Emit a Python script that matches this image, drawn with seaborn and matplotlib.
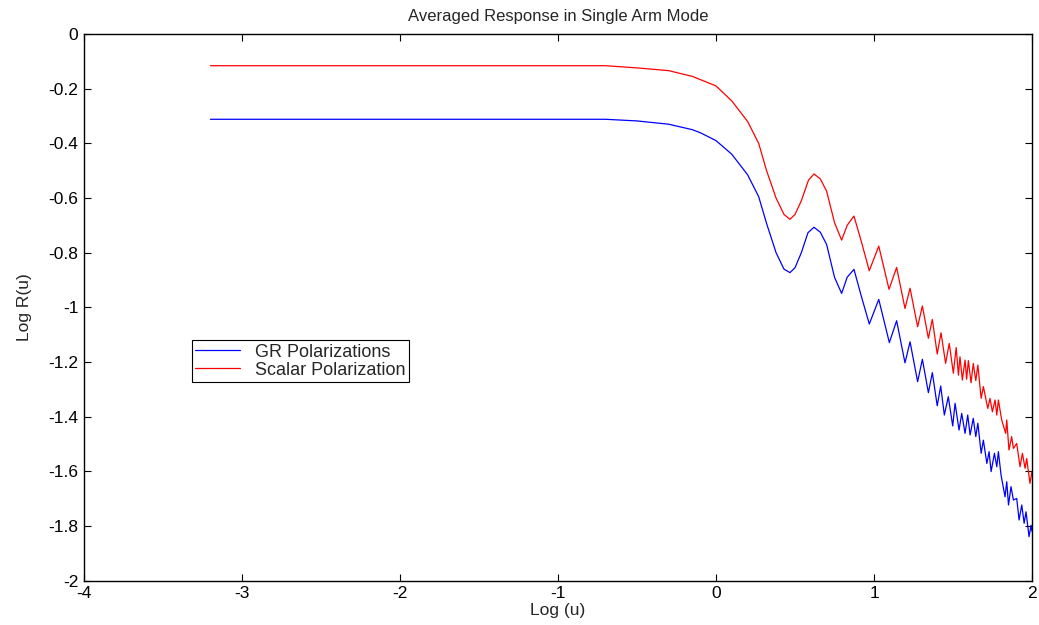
import pandas as pd
import matplotlib
matplotlib.use("Agg")
import matplotlib.pyplot as plt
import seaborn as sns

# values (log u, log R(u))
gr_x = [-3.2, -0.7, -0.5, -0.3, -0.15, -0.1, 0.0, 0.1, 0.2, 0.27, 0.32, 0.38, 0.43, 0.468,
        0.5, 0.54, 0.582, 0.62, 0.66, 0.70, 0.75, 0.795, 0.83, 0.873, 0.92, 0.97, 1.03,
        1.097, 1.143, 1.196, 1.228, 1.276, 1.306, 1.344, 1.369, 1.40, 1.422, 1.445, 1.47,
        1.498, 1.513, 1.538, 1.555, 1.576, 1.593, 1.608, 1.628, 1.644, 1.657, 1.678, 1.692,
        1.714, 1.728, 1.741, 1.762, 1.777, 1.787, 1.804, 1.829, 1.84, 1.851, 1.867, 1.882,
        1.903, 1.918, 1.935, 1.95, 1.962, 1.981, 1.994, 2.0]
gr_y = [-0.312, -0.312, -0.318, -0.33, -0.35, -0.361, -0.39, -0.44, -0.515, -0.595, -0.693,
        -0.80, -0.86, -0.873, -0.855, -0.80, -0.727, -0.707, -0.725, -0.77, -0.89, -0.949,
        -0.89, -0.861, -0.96, -1.061, -0.971, -1.129, -1.049, -1.203, -1.126, -1.272, -1.19,
        -1.312, -1.239, -1.36, -1.288, -1.394, -1.327, -1.434, -1.351, -1.449, -1.388, -1.461,
        -1.394, -1.467, -1.406, -1.473, -1.424, -1.534, -1.486, -1.571, -1.528, -1.601, -1.534,
        -1.583, -1.528, -1.614, -1.693, -1.638, -1.723, -1.656, -1.705, -1.699, -1.778, -1.723,
        -1.79, -1.748, -1.839, -1.797, -1.82]

sc_x = [-3.2, -0.7, -0.5, -0.3, -0.15, 0.0, 0.1, 0.2, 0.27, 0.32, 0.38, 0.43, 0.468,
        0.5, 0.54, 0.585, 0.62, 0.66, 0.70, 0.75, 0.795, 0.83, 0.873, 0.92, 0.97, 1.03,
        1.095, 1.143, 1.196, 1.228, 1.276, 1.306, 1.344, 1.369, 1.40, 1.424, 1.453, 1.476,
        1.502, 1.52, 1.534, 1.544, 1.559, 1.576, 1.586, 1.597, 1.614, 1.628, 1.644, 1.657,
        1.678, 1.692, 1.72, 1.734, 1.749, 1.766, 1.777, 1.787, 1.808, 1.833, 1.84, 1.854,
        1.871, 1.882, 1.903, 1.924, 1.939, 1.956, 1.966, 1.987, 2.0]
sc_y = [-0.116, -0.116, -0.124, -0.134, -0.155, -0.19, -0.245, -0.32, -0.40, -0.50, -0.60,
        -0.66, -0.678, -0.66, -0.61, -0.535, -0.512, -0.53, -0.575, -0.69, -0.754, -0.70,
        -0.666, -0.76, -0.866, -0.776, -0.934, -0.854, -1.004, -0.93, -1.071, -0.995, -1.113,
        -1.044, -1.171, -1.093, -1.205, -1.132, -1.241, -1.147, -1.248, -1.181, -1.266, -1.193,
        -1.263, -1.195, -1.276, -1.205, -1.268, -1.211, -1.333, -1.29, -1.37, -1.333, -1.382,
        -1.339, -1.394, -1.339, -1.412, -1.461, -1.412, -1.522, -1.473, -1.516, -1.498, -1.583,
        -1.534, -1.589, -1.553, -1.644, -1.60]

labels = ["GR Polarizations", "Scalar Polarization"]
xticks = [-4, -3, -2, -1, 0, 1, 2]
yticks = [-2, -1.8, -1.6, -1.4, -1.2, -1, -0.8, -0.6, -0.4, -0.2, 0]
ytick_labels = ["-2", "-1.8", "-1.6", "-1.4", "-1.2", "-1", "-0.8", "-0.6", "-0.4", "-0.2", "0"]

df = pd.concat([
    pd.DataFrame({"x": gr_x, "y": gr_y, "series": labels[0]}),
    pd.DataFrame({"x": sc_x, "y": sc_y, "series": labels[1]}),
])

sns.set_style("ticks")
plt.rcParams["font.family"] = ["Liberation Sans", "DejaVu Sans"]
plt.rcParams["axes.unicode_minus"] = False

fig = plt.figure(figsize=(10.39, 6.25), dpi=100)
ax = fig.add_axes([0.0808, 0.0709, 0.9125, 0.8747])

sns.lineplot(data=df, x="x", y="y", hue="series", palette=["#0000ff", "#ff0000"],
             sort=False, estimator=None, linewidth=0.9, ax=ax)

ax.set_xlim(-4, 2)
ax.set_ylim(-2, 0)
ax.set_xticks(xticks)
ax.set_xticklabels([str(t) for t in xticks])
ax.set_yticks(yticks)
ax.set_yticklabels(ytick_labels)
ax.tick_params(direction="in", top=True, right=True, labelsize=12.5, length=5, width=0.8,
               colors="black", pad=4)
for s in ax.spines.values():
    s.set_linewidth(1.0)
    s.set_color("black")

ax.set_title("Averaged Response in Single Arm Mode", fontsize=12, pad=9)
ax.set_xlabel("Log (u)", fontsize=12.5, labelpad=1)
ax.set_ylabel("Log R(u)", fontsize=12.5, labelpad=12)

leg = ax.legend(loc="upper left", bbox_to_anchor=(0.1136, 0.44), borderaxespad=0,
                fontsize=13, fancybox=False, edgecolor="black", framealpha=1,
                handlelength=2.5, borderpad=0.2, labelspacing=0.05, handletextpad=0.8)
leg.get_frame().set_linewidth(0.8)

fig.savefig("out.png", dpi=100)
